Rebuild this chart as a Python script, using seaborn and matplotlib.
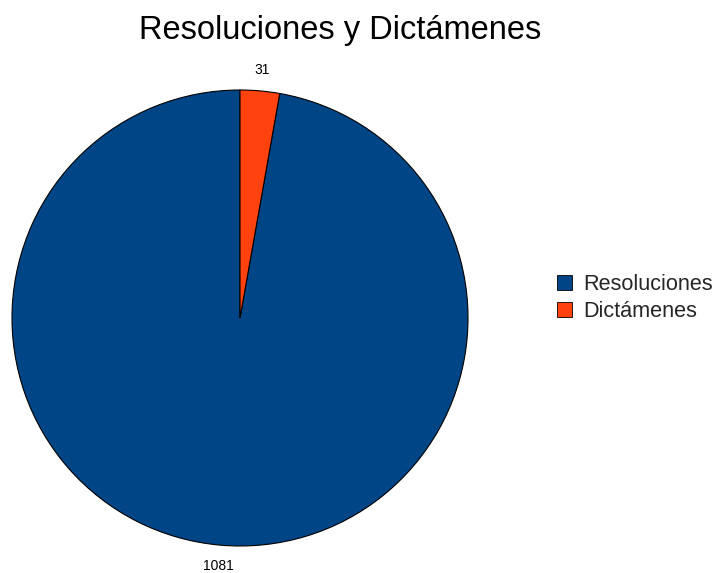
import matplotlib
matplotlib.use("Agg")
import matplotlib.pyplot as plt
import matplotlib.patches as mpatches
import seaborn as sns

# Data
categories = ["Resoluciones", "Dictámenes"]
values = [1081, 31]
colors = ["#004586", "#FF420E"]

sns.set_theme(style="white")
plt.rcParams['font.family'] = ['Liberation Sans', 'DejaVu Sans']

W, H = 713, 573
fig = plt.figure(figsize=(W / 100, H / 100), dpi=100)

# pie area: centre (240, 318), radius 228 px
cx, cy, r = 240, 318, 228
ax = fig.add_axes([(cx - r) / W, (H - cy - r) / H, 2 * r / W, 2 * r / H])
wedges, texts = ax.pie(values, labels=[str(v) for v in values], colors=colors,
                       startangle=90, counterclock=True, labeldistance=1.09,
                       wedgeprops=dict(edgecolor="black", linewidth=0.8),
                       textprops=dict(fontsize=10, color="black"))
for t in texts:
    t.set_ha("center")
ax.set_xlim(-1, 1)
ax.set_ylim(-1, 1)
ax.set_aspect("equal")
ax.axis("off")

fig.text(340 / W, 1 - 30 / H, "Resoluciones y Dictámenes", ha="center", va="center",
         fontsize=23.5, color="black")

handles = [mpatches.Patch(facecolor=c, edgecolor="black", linewidth=0.6) for c in colors]
fig.legend(handles, categories, loc="center left", bbox_to_anchor=(557 / W, 1 - 298 / H),
           frameon=False, fontsize=15.6, handlelength=0.7, handleheight=0.7,
           handletextpad=0.5, labelspacing=0.3, borderpad=0, borderaxespad=0)

fig.savefig("out.png", dpi=100, facecolor="white")
